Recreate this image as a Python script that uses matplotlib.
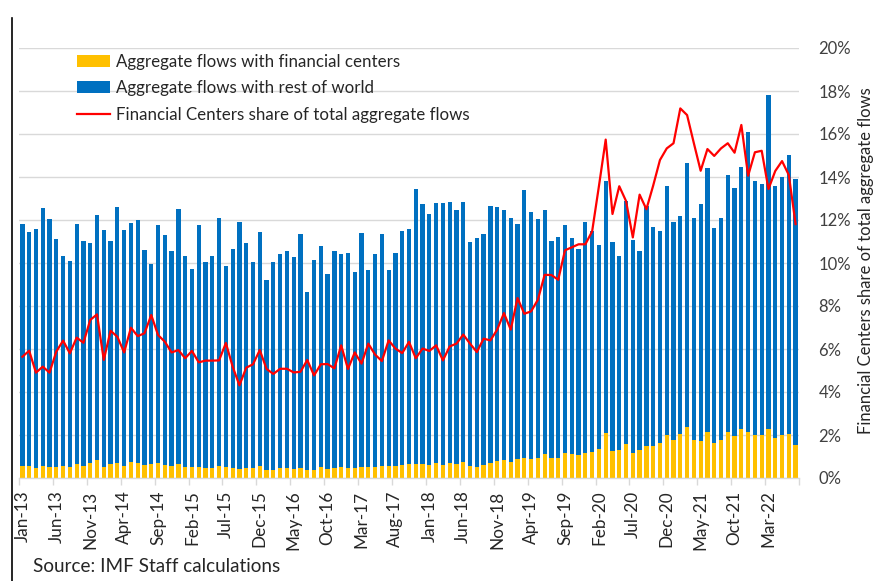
import numpy as np
import matplotlib
matplotlib.use("Agg")
import matplotlib.pyplot as plt
from matplotlib.patches import Patch
from matplotlib.lines import Line2D
import pandas as pd

plt.rcParams['font.family'] = ['Lato', 'DejaVu Sans']

months = pd.date_range("2013-01-01", "2022-07-01", freq="MS")
month_labels = [d.strftime("%b-%y") for d in months]

# total height of stacked bar (same scale as right axis)
total_flows = [
    11.8, 11.43, 11.58, 12.56, 12.05, 11.12, 10.31, 10.11, 11.8, 11.04, 10.91, 12.23,
    11.53, 11.04, 12.62, 11.53, 11.88, 12.02, 10.6, 9.97, 11.75, 11.29, 10.56,
    12.5, 10.34, 9.71, 11.77, 10.06, 10.34, 12.09, 9.84, 10.65, 11.92, 10.95, 10.06,
    11.43, 9.21, 10.06, 10.43, 10.56, 10.26, 11.33, 8.65, 10.14, 10.81, 9.5, 10.56,
    10.42, 10.47, 9.58, 11.41, 9.67, 10.42, 11.36, 9.67, 10.47, 11.49, 11.57, 13.43,
    12.76, 12.29, 12.79, 12.79, 12.84, 12.47, 12.84, 10.98, 11.15, 11.36, 12.64,
    12.62, 12.47, 12.08, 11.81, 13.4, 12.37, 12.05, 12.47, 11.01, 11.22, 11.77, 11.15,
    10.64, 11.91, 11.47, 10.84, 13.81, 10.96, 10.33, 12.9, 11.05, 10.54, 12.67, 11.68,
    11.5, 13.58, 11.92, 12.17, 14.65, 12.09, 12.73, 14.4, 11.63, 12.11, 14.09, 13.5,
    14.48, 16.09, 13.81, 13.66, 17.8, 13.58, 13.98, 15.02, 13.89,
]

financial_centers = [
    0.57, 0.57, 0.47, 0.57, 0.5, 0.53, 0.57, 0.5, 0.65, 0.57, 0.7, 0.82,
    0.53, 0.65, 0.7, 0.57, 0.74, 0.7, 0.62, 0.65, 0.7, 0.62, 0.54,
    0.65, 0.5, 0.5, 0.53, 0.45, 0.45, 0.57, 0.53, 0.45, 0.42, 0.45, 0.45,
    0.57, 0.37, 0.37, 0.45, 0.45, 0.42, 0.45, 0.37, 0.37, 0.5, 0.42, 0.45,
    0.53, 0.48, 0.48, 0.53, 0.53, 0.53, 0.56, 0.56, 0.56, 0.6, 0.65, 0.65,
    0.65, 0.62, 0.7, 0.62, 0.7, 0.65, 0.74, 0.57, 0.53, 0.62, 0.7,
    0.79, 0.82, 0.74, 0.87, 0.91, 0.88, 0.91, 1.1, 0.91, 0.91, 1.15, 1.1,
    1.05, 1.18, 1.22, 1.35, 2.08, 1.27, 1.3, 1.58, 1.15, 1.3, 1.49, 1.49,
    1.61, 1.98, 1.77, 2.03, 2.37, 1.77, 1.74, 2.12, 1.64, 1.77, 2.12, 1.94,
    2.29, 2.16, 1.98, 1.98, 2.29, 1.86, 1.98, 2.03, 1.55,
]

fc_share = [
    5.64, 5.92, 4.9, 5.18, 4.9, 5.88, 6.39, 5.8, 6.53, 6.29, 7.35, 7.61,
    5.49, 6.85, 6.57, 5.84, 6.99, 6.6, 6.73, 7.58, 6.65, 6.34, 5.84,
    5.95, 5.57, 5.91, 5.38, 5.46, 5.46, 5.47, 6.28, 5.18, 4.31, 5.13, 5.29,
    5.95, 5.07, 4.84, 5.08, 5.08, 4.91, 4.94, 5.49, 4.77, 5.29, 5.3, 5.1,
    6.17, 5.07, 5.84, 5.32, 6.25, 5.74, 5.44, 6.4, 6.02, 5.81, 6.33, 5.57,
    6.02, 5.91, 6.17, 5.47, 6.12, 6.25, 6.67, 6.25, 5.86, 6.48, 6.4,
    6.9, 7.67, 6.9, 8.37, 7.64, 7.75, 8.29, 9.45, 9.44, 9.22, 10.59, 10.73,
    10.87, 10.87, 11.47, 13.57, 15.74, 12.28, 13.57, 12.88, 11.19, 13.18, 12.5, 13.6,
    14.79, 15.33, 15.57, 17.19, 16.88, 15.57, 14.29, 15.3, 14.98, 15.33, 15.57, 15.13,
    16.42, 14.06, 15.15, 15.22, 13.44, 14.28, 14.74, 14.09, 11.81,
]

y_ticks = [0, 2, 4, 6, 8, 10, 12, 14, 16, 18, 20]
y_tick_labels = [f"{v}%" for v in y_ticks]

legend_labels = ["Aggregate flows with financial centers",
                 "Aggregate flows with rest of world",
                 "Financial Centers share of total aggregate flows"]

YELLOW = "#FFC000"
BLUE = "#0070C0"
RED = "#FF0000"

fc = np.array(financial_centers)
rest_of_world = np.array(total_flows) - fc
x = np.arange(len(month_labels))

fig = plt.figure(figsize=(8.86, 5.81), dpi=100)
ax = fig.add_axes([19 / 886, 1 - 478 / 581, (799 - 19) / 886, (478 - 48) / 581])

for v in y_ticks:
    ax.axhline(v, color="#D9D9D9", lw=1.0, zorder=0)

ax.bar(x, fc, width=0.63, color=YELLOW, zorder=2)
ax.bar(x, rest_of_world, bottom=fc, width=0.63, color=BLUE, zorder=2)
ax.plot(x, fc_share, color=RED, lw=1.6, zorder=3)

ax.set_xlim(-0.5, len(x) - 0.5)
ax.set_ylim(0, 20)

for s in ["top", "left", "right"]:
    ax.spines[s].set_visible(False)
ax.spines["bottom"].set_color("#D9D9D9")
ax.spines["bottom"].set_linewidth(1.0)

ax.yaxis.tick_right()
ax.set_yticks(y_ticks)
ax.set_yticklabels(y_tick_labels)
ax.tick_params(axis="y", length=0, pad=14, labelsize=12, labelcolor="#404040")

ax.set_xticks(x[::5])
ax.set_xticklabels(month_labels[::5], rotation=90, va="top", ha="center")
ax.set_xticks(np.arange(-0.5, len(x), 5), minor=True)
ax.tick_params(axis="x", which="major", length=0, pad=9, labelsize=12.3, labelcolor="#262626")
ax.tick_params(axis="x", which="minor", length=5, width=1.0, color="#D9D9D9")

fig.text(866 / 886, 1 - 261 / 581, legend_labels[2], rotation=90,
         ha="center", va="center", fontsize=12, color="#262626")

handles = [Patch(facecolor=YELLOW, edgecolor="none"),
           Patch(facecolor=BLUE, edgecolor="none"),
           Line2D([0], [0], color=RED, lw=1.6)]
fig.legend(handles, legend_labels, loc="upper left",
           bbox_to_anchor=(77 / 886, 1 - 53.5 / 581), bbox_transform=fig.transFigure,
           frameon=False, fontsize=12.2, handlelength=1.95, handleheight=0.7,
           handletextpad=0.38, labelspacing=0.62, borderpad=0, borderaxespad=0,
           labelcolor="#262626")

fig.text(33 / 886, 1 - 566 / 581, "Source: IMF Staff calculations",
         ha="left", va="center", fontsize=13.6, color="#262626")

fig.add_artist(Line2D([11.5 / 886, 11.5 / 886], [0, 1 - 18 / 581],
                      transform=fig.transFigure, color="black", lw=1.2))

fig.savefig("out.png", dpi=100)
